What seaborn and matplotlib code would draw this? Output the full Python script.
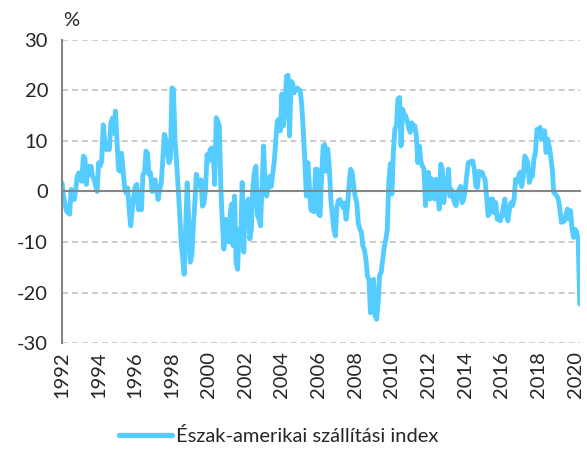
import numpy as np
import pandas as pd
import matplotlib
matplotlib.use("Agg")
import matplotlib.pyplot as plt
import seaborn as sns

# havi adatok, 1992 jan - 2020 apr (%)
start_year = 1992
shipping_index = [
    1.7, -1.0, -2.5, -3.9, -4.2, -4.5, 0.4, -0.5, -1.6, 0.4, 3.0, 3.7,          # 1992
    2.5, 2.0, 7.0, 6.6, 1.4, 5.0, 3.4, 5.0, 3.0, 2.4, 1.2, 0.0,                 # 1993
    5.7, 5.0, 6.0, 13.2, 10.0, 8.3, 8.6, 8.3, 13.6, 14.5, 11.5, 15.9,           # 1994
    10.0, 4.3, 4.0, 7.6, 4.3, 0.7, -0.3, 0.7, -3.6, -6.8, -3.6, -1.0,           # 1995
    1.0, 1.4, -3.6, -1.0, -3.6, 3.4, 3.7, 8.0, 7.6, 3.4, 3.7, 0.0,              # 1996
    2.0, 2.3, 0.0, -1.6, 0.4, 1.7, 6.3, 11.3, 10.3, 8.0, 5.7, 6.6,              # 1997
    20.5, 20.2, 10.0, 6.0, 1.0, -4.0, -10.0, -13.0, -16.4, -7.0, 1.7, -6.0,     # 1998
    -14.0, -12.7, -6.8, -2.2, 3.4, 2.0, 1.0, 2.3, -2.9, -2.2, 0.5, 7.3,         # 1999
    6.0, 8.3, 8.6, 8.0, 1.4, 14.6, 13.9, 13.0, 1.0, -6.0, -11.4, -5.5,          # 2000
    -8.0, -10.0, -5.0, -2.5, -10.7, -0.9, -14.0, -15.4, -7.5, -10.0, 1.8, -12.0,  # 2001
    -2.2, -2.2, -1.5, -9.4, -7.5, 1.0, 3.8, 5.0, -4.8, -5.5, -6.8, 1.0,         # 2002
    9.0, 1.0, -0.9, 1.0, 3.0, 1.0, 3.5, 6.0, 10.0, 14.0, 14.3, 12.0,            # 2003
    19.3, 13.0, 16.5, 22.8, 23.0, 11.0, 21.8, 21.5, 19.5, 20.0, 20.5, 20.2,     # 2004
    20.0, 17.0, 12.0, 6.0, -0.9, 5.7, 1.0, -3.6, -3.9, -4.0, 4.4, 4.4,          # 2005
    -4.5, -4.8, 3.0, 9.0, 9.3, 4.0, 8.4, 5.0, -1.5, -4.5, -7.5, -8.8,           # 2006
    -3.0, -1.8, -1.6, -2.2, -3.2, -2.3, -5.5, -2.9, 1.5, 4.4, 3.8, 1.0,         # 2007
    -1.0, -2.2, -6.2, -7.5, -8.0, -10.8, -11.5, -13.4, -16.7, -17.4, -24.0, -18.0,  # 2008
    -17.4, -24.6, -25.3, -22.0, -16.5, -16.0, -13.5, -11.0, -9.5, -7.5, 2.0, 5.5,   # 2009
    -0.5, 8.0, 12.4, 13.0, 18.3, 18.6, 9.0, 16.3, 15.3, 15.0, 14.0, 12.5,       # 2010
    11.7, 13.6, 13.0, 13.0, 11.0, 5.7, 9.0, 6.0, 5.0, 4.5, -2.8, 3.0,           # 2011
    3.8, -1.5, 2.5, 2.0, -1.5, 2.4, 1.8, -3.5, 5.4, 4.4, -2.2, 1.0,             # 2012
    1.0, 4.4, -0.9, 0.4, -1.0, -2.2, -2.8, -0.2, 0.4, 1.0, -2.2, -1.5,          # 2013
    0.4, 3.0, 5.7, 5.7, 6.0, 6.0, 4.4, 1.0, 0.8, 4.0, 3.8, 3.8,                 # 2014
    3.0, 2.4, -0.9, -4.8, -4.2, -1.5, -1.5, -4.2, -2.2, -5.5, -4.8, -5.8,       # 2015
    -4.8, -3.0, -1.5, -4.8, -5.8, -3.5, -2.2, -2.8, -1.5, 2.4, 1.8, 3.0,        # 2016
    3.8, 1.0, 3.0, 7.0, 6.5, 5.7, 1.8, 3.0, 3.0, 6.4, 7.7, 12.3,                # 2017
    12.0, 12.7, 10.4, 12.0, 12.0, 7.7, 10.4, 9.0, 7.0, 4.4, -0.2, -0.5,         # 2018
    -0.9, -1.5, -3.5, -6.1, -6.0, -5.8, -4.5, -3.5, -5.5, -3.8, -7.5, -9.1,     # 2019
    -7.5, -8.1, -9.5, -22.3,                                                    # 2020
]
year_ticks = list(range(1992, 2021, 2))
y_ticks = [-30, -20, -10, 0, 10, 20, 30]
series_name = "Észak-amerikai szállítási index"

df = pd.DataFrame({
    "ev": start_year + np.arange(len(shipping_index)) / 12,
    "ertek": shipping_index,
})

sns.set_style("white")
plt.rcParams["font.family"] = ["Lato", "DejaVu Sans"]

fig = plt.figure(figsize=(5.87, 4.53), dpi=100)
ax = fig.add_axes([0.1056, 0.2428, 0.882, 0.669])

blue = "#55CCFF"
sns.lineplot(data=df, x="ev", y="ertek", ax=ax, color=blue, linewidth=3.5,
             label=series_name, legend=False)

ax.set_ylim(-30, 30)
ax.set_xlim(start_year, start_year + (len(shipping_index) - 1) / 12)
ax.set_yticks(y_ticks)
ax.set_yticklabels([str(v) for v in y_ticks], fontsize=14.5)
for v in y_ticks:
    if v != 0:
        ax.axhline(v, color="#BFBFBF", lw=1.1, ls=(0, (4, 2.5)), zorder=0)

# x tengely a 0-nal, feliratok alul
ax.spines["bottom"].set_position(("data", 0))
ax.spines["bottom"].set_color("#868686")
ax.spines["bottom"].set_linewidth(1.5)
ax.spines["left"].set_color("#868686")
ax.spines["left"].set_linewidth(1.5)
ax.spines["top"].set_visible(False)
ax.spines["right"].set_visible(False)
ax.set_xticks(year_ticks)
ax.tick_params(axis="x", direction="out", length=4, width=1.5, color="#868686",
               labelbottom=False)
ax.tick_params(axis="y", direction="out", length=5, width=1.5, color="#868686",
               pad=5)
ax.set_xlabel("")
ax.set_ylabel("")

sec = ax.secondary_xaxis("bottom")
sec.set_xticks(year_ticks)
sec.set_xticklabels([str(y) for y in year_ticks], rotation=90, fontsize=14.5)
sec.tick_params(length=0, pad=6)
sec.spines["bottom"].set_visible(False)

fig.text(0.108, 0.955, "%", fontsize=14.5, ha="left", va="center")

handle = plt.Line2D([], [], color=blue, linewidth=3.8)
fig.legend([handle], [series_name], loc="center", bbox_to_anchor=(0.475, 0.038),
           frameon=False, fontsize=14.5, handlelength=2.6, handletextpad=0.2)

fig.savefig("out.png", dpi=100)
